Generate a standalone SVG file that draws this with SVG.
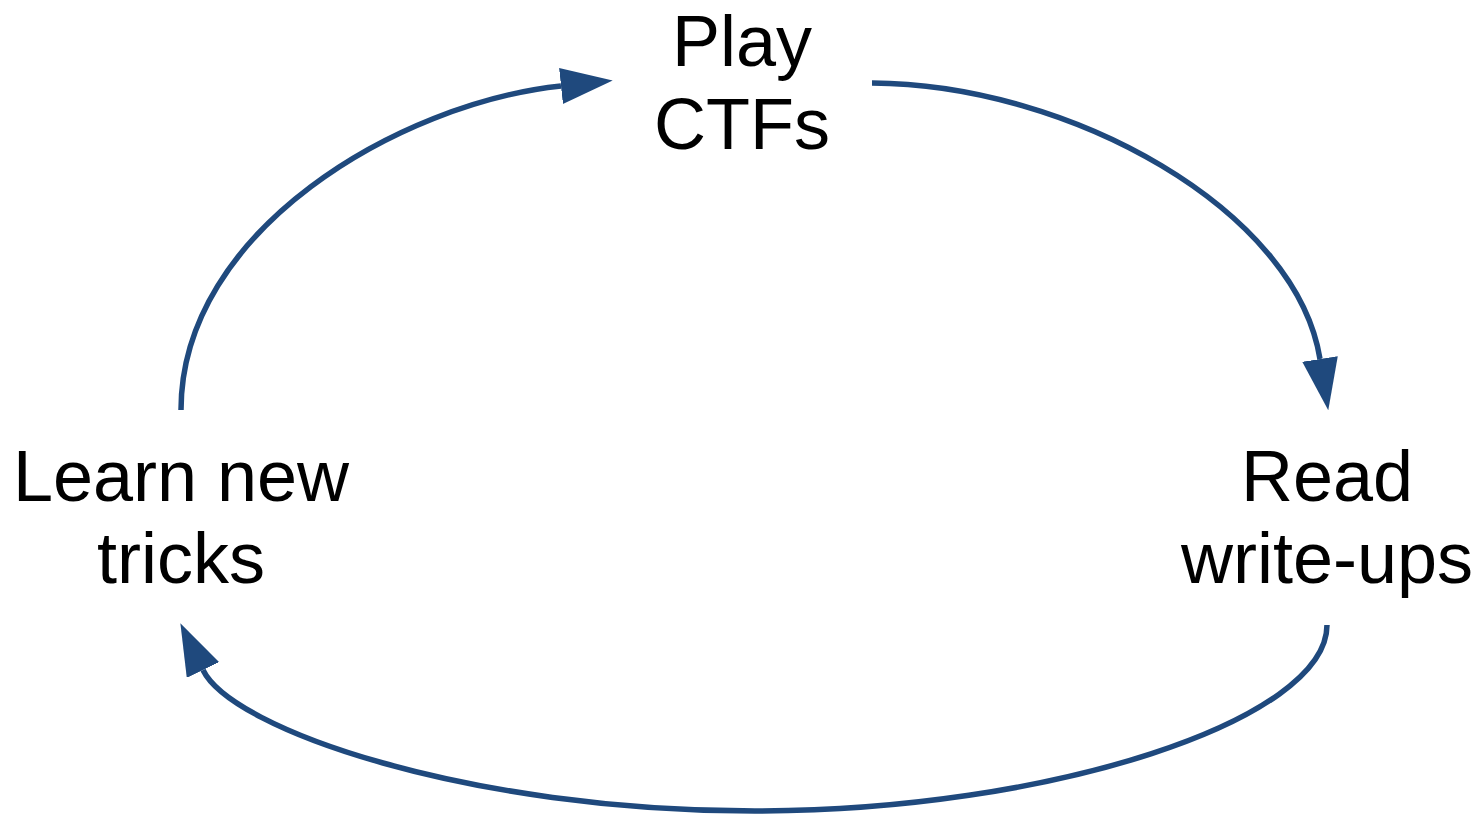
<svg xmlns="http://www.w3.org/2000/svg" width="1478" height="817" viewBox="0 0 1478 817">
  <style>
    .lbl { font-family: "Liberation Sans", Arial, sans-serif; font-size: 72px; fill: #000; text-anchor: middle; }
    .arc { fill: none; stroke: #1f497d; stroke-width: 5.5; }
  </style>
  <defs>
    <marker id="head" viewBox="0 0 52 36" refX="0" refY="18" markerWidth="52" markerHeight="36" markerUnits="userSpaceOnUse" orient="auto">
      <path d="M0,0 L52,18 L0,36 z" fill="#1f497d"/>
    </marker>
  </defs>
  <rect width="1478" height="817" fill="#fff"/>
  <g id="connectors">
    <path class="arc" d="M181,410 C181,230 400,103 561,86" marker-end="url(#head)"/>
    <path class="arc" d="M872,83 C1070,84 1296,210 1320,359" marker-end="url(#head)"/>
    <path class="arc" d="M1327,625 C1327,720 1050,811 755,811 C470,811 232,730 203,670" marker-end="url(#head)"/>
  </g>
  <g id="node-play">
    <text class="lbl" x="742" y="66">Play</text>
    <text class="lbl" x="742" y="149">CTFs</text>
  </g>
  <g id="node-read">
    <text class="lbl" x="1327" y="501">Read</text>
    <text class="lbl" x="1327" y="583">write-ups</text>
  </g>
  <g id="node-learn">
    <text class="lbl" x="181" y="501">Learn new</text>
    <text class="lbl" x="181" y="583">tricks</text>
  </g>
</svg>
